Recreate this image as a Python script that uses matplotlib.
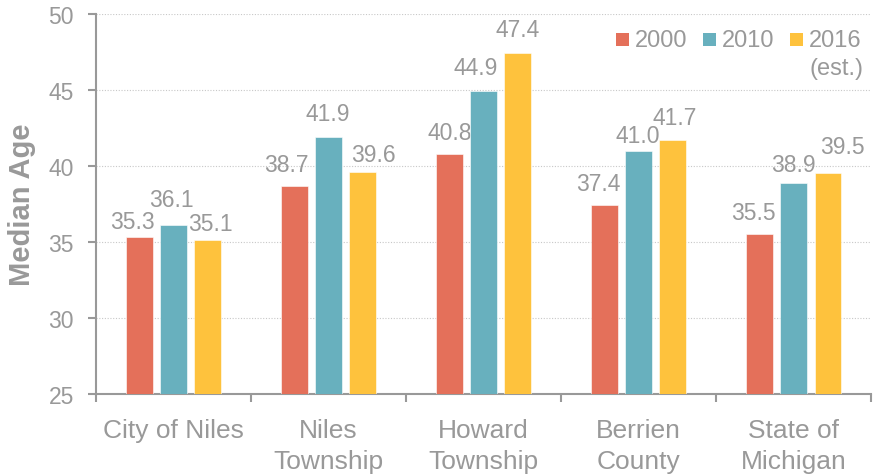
import numpy as np
import matplotlib.pyplot as plt
from matplotlib.patches import Rectangle

# median age by place and year
places = ['City of Niles', 'Niles\nTownship', 'Howard\nTownship', 'Berrien\nCounty', 'State of\nMichigan']
years = ['2000', '2010', '2016']
age_2000 = [35.3, 38.7, 40.8, 37.4, 35.5]
age_2010 = [36.1, 41.9, 44.9, 41.0, 38.9]
age_2016 = [35.1, 39.6, 47.4, 41.7, 39.5]
colors = ['#E4705A', '#68B0BE', '#FEC23D']

grey = '#999999'
plt.rcParams['font.family'] = ['Liberation Sans', 'DejaVu Sans']

fig = plt.figure(figsize=(8.73, 4.77), dpi=100)
ax = fig.add_axes([0.110, 0.172, 0.888, 0.797])

# hand nudges for the value labels (dx, gap above bar, in pixels) so neighbours don't collide
label_nudge = [
    [(-7, 9), (-2, 19), (3, 10)],
    [(-8, 15), (-1, 17), (11, 11)],
    [(0, 15), (-8, 17), (0, 17)],
    [(-6, 15), (-1, 9), (2, 16)],
    [(-6, 15), (0, 12), (14, 20)],
]

x = np.arange(len(places))
width = 0.174
step = 0.221
series = [age_2000, age_2010, age_2016]
for i, (vals, col) in enumerate(zip(series, colors)):
    xs = x + (i - 1) * step
    ax.bar(xs, np.array(vals) - 25, width, bottom=25, color=col,
           edgecolor='white', linewidth=0.4, zorder=3)
    for j, (xi, v) in enumerate(zip(xs, vals)):
        dx, dy = label_nudge[j][i]
        ax.annotate(f'{v:.1f}', (xi, v), xytext=(dx * 0.72, dy * 0.72),
                    textcoords='offset points', ha='center', va='baseline',
                    fontsize=16.5, color=grey)

ax.set_xlim(-0.5, len(places) - 0.5)
ax.set_ylim(25, 50)
ax.set_yticks(np.arange(25, 51, 5))
ax.yaxis.grid(True, linestyle=(0, (1, 1.5)), color='#c8c8c8', linewidth=0.8, zorder=0)

# category labels on minor ticks, boundary ticks on major
ax.set_xticks(np.arange(-0.5, len(places), 1.0))
ax.set_xticklabels([])
ax.set_xticks(x, minor=True)
ax.set_xticklabels(places, minor=True, fontsize=19, color=grey, linespacing=1.4)
ax.tick_params(axis='x', which='minor', length=0, pad=17)
ax.tick_params(axis='x', which='major', length=6, width=1.5, color=grey)
ax.tick_params(axis='y', length=6, width=1.5, color=grey, labelsize=16.5,
               labelcolor=grey, pad=10)

for side in ['top', 'right']:
    ax.spines[side].set_visible(False)
for side in ['left', 'bottom']:
    ax.spines[side].set_color(grey)
    ax.spines[side].set_linewidth(1.5)

ax.set_ylabel('Median Age', fontsize=21, fontweight='bold', color=grey, labelpad=9)

# legend: small squares with the year beside them
for k, (yr, col) in enumerate(zip(years, colors)):
    x0 = 0.671 + k * 0.1123
    ax.add_patch(Rectangle((x0, 0.916), 0.0168, 0.0342, transform=ax.transAxes,
                           facecolor=col, edgecolor='none', clip_on=False))
    ax.text(x0 + 0.0245, 0.916, yr, transform=ax.transAxes, ha='left',
            va='baseline', fontsize=17, color=grey)
ax.text(0.990, 0.842, '(est.)', transform=ax.transAxes, ha='right', va='baseline',
        fontsize=17, color=grey)

fig.savefig('out.png', dpi=100)
